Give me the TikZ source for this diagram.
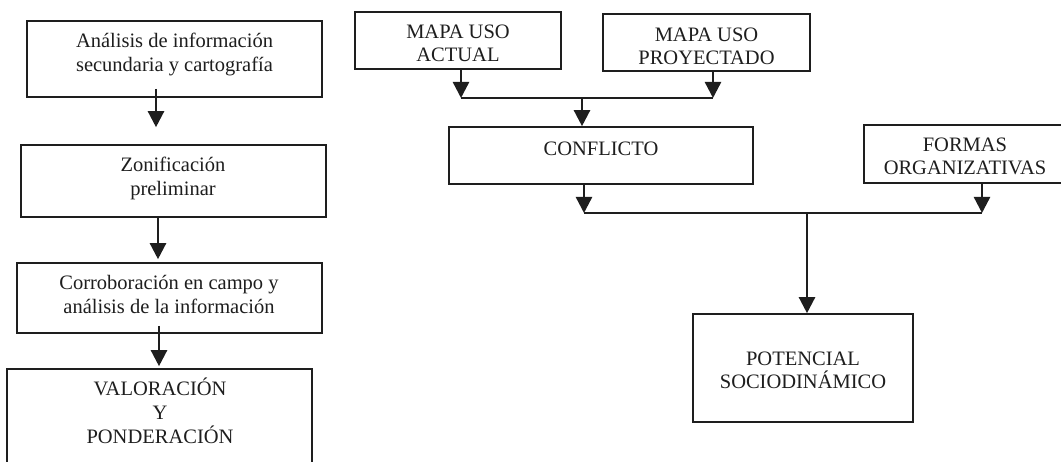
\documentclass[tikz,border=0pt]{standalone}
\usepackage{fontspec}
\setmainfont{Liberation Serif}
\usetikzlibrary{arrows.meta}
\definecolor{ink}{HTML}{1E1E1E}
\begin{document}
\begin{tikzpicture}[x=1pt,y=-1pt,
  box/.style={draw=ink,line width=1.6pt,inner sep=0pt,rectangle},
  txt/.style={font=\fontsize{20.5}{23.5}\selectfont,align=center,inner sep=0pt,text=ink,anchor=base},
  arr/.style={draw=ink,line width=2.4pt,-{Triangle[length=16pt,width=16pt]}},
  hline/.style={draw=ink,line width=1.6pt}]
\useasboundingbox (0,0) rectangle (1061,462);
\clip (0,0) rectangle (1061,462);
\fill[white] (0,0) rectangle (1061,462);
% left column (text anchors sit on the baseline of the last line)
\node[box,minimum width=295pt,minimum height=76pt] (A) at (174.5,59) {};
\node[txt] (At) at (174.5,71.5) {Análisis de información\\secundaria y cartografía};
\node[box,minimum width=305pt,minimum height=72pt] (B) at (173.5,181) {};
\node[txt] (Bt) at (173,195.5) {Zonificación\\preliminar};
\node[box,minimum width=305pt,minimum height=70pt] (C) at (169.5,298) {};
\node[txt] (Ct) at (169,313.5) {Corroboración en campo y\\análisis de la información};
\node[box,minimum width=305pt,minimum height=111pt] (D) at (159.5,424.5) {};
\node[txt,font=\fontsize{20.5}{24}\selectfont] (Dt) at (160,443) {VALORACIÓN\\Y\\PONDERACIÓN};
% right side
\node[box,minimum width=206pt,minimum height=57pt] (E) at (458,40.5) {};
\node[txt] (Et) at (458,62) {MAPA USO\\ACTUAL};
\node[box,minimum width=207pt,minimum height=57pt] (F) at (706.5,42.5) {};
\node[txt] (Ft) at (706.5,65) {MAPA USO\\PROYECTADO};
\node[box,minimum width=304pt,minimum height=57pt] (G) at (601,155.5) {};
\node[txt] (Gt) at (601,156) {CONFLICTO};
\node[box,minimum width=206pt,minimum height=58pt] (H) at (967,154) {};
\node[txt] (Ht) at (965,175) {FORMAS\\ORGANIZATIVAS};
\node[box,minimum width=220pt,minimum height=108pt] (I) at (803,368) {};
\node[txt] (It) at (803,388.5) {POTENCIAL\\SOCIODINÁMICO};
% left connectors
\draw[arr] ([xshift=-18.5pt,yshift=9pt]A.south) -- ([xshift=-17.5pt,yshift=17pt]B.north);
\draw[arr] ([xshift=-15.5pt]B.south) -- ([xshift=-11.5pt,yshift=3pt]C.north);
\draw[arr] ([xshift=-10.5pt,yshift=8pt]C.south) -- ([xshift=-0.5pt,yshift=2pt]D.north);
% right connectors
\coordinate (j1) at (582,98);
\draw[hline] ([xshift=3pt]E.south |- j1) -- ([xshift=6.5pt]F.south |- j1);
\draw[arr] ([xshift=3pt]E.south) -- ([xshift=3pt]E.south |- j1);
\draw[arr] ([xshift=6.5pt]F.south) -- ([xshift=6.5pt]F.south |- j1);
\draw[arr] (j1) -- (j1 |- G.north);
\coordinate (j2) at (807,213);
\draw[hline] ([xshift=-17pt]G.south |- j2) -- ([xshift=15pt]H.south |- j2);
\draw[arr] ([xshift=-17pt]G.south) -- ([xshift=-17pt]G.south |- j2);
\draw[arr] ([xshift=15pt]H.south) -- ([xshift=15pt]H.south |- j2);
\draw[arr] (j2) -- (j2 |- I.north);
\end{tikzpicture}
\end{document}
